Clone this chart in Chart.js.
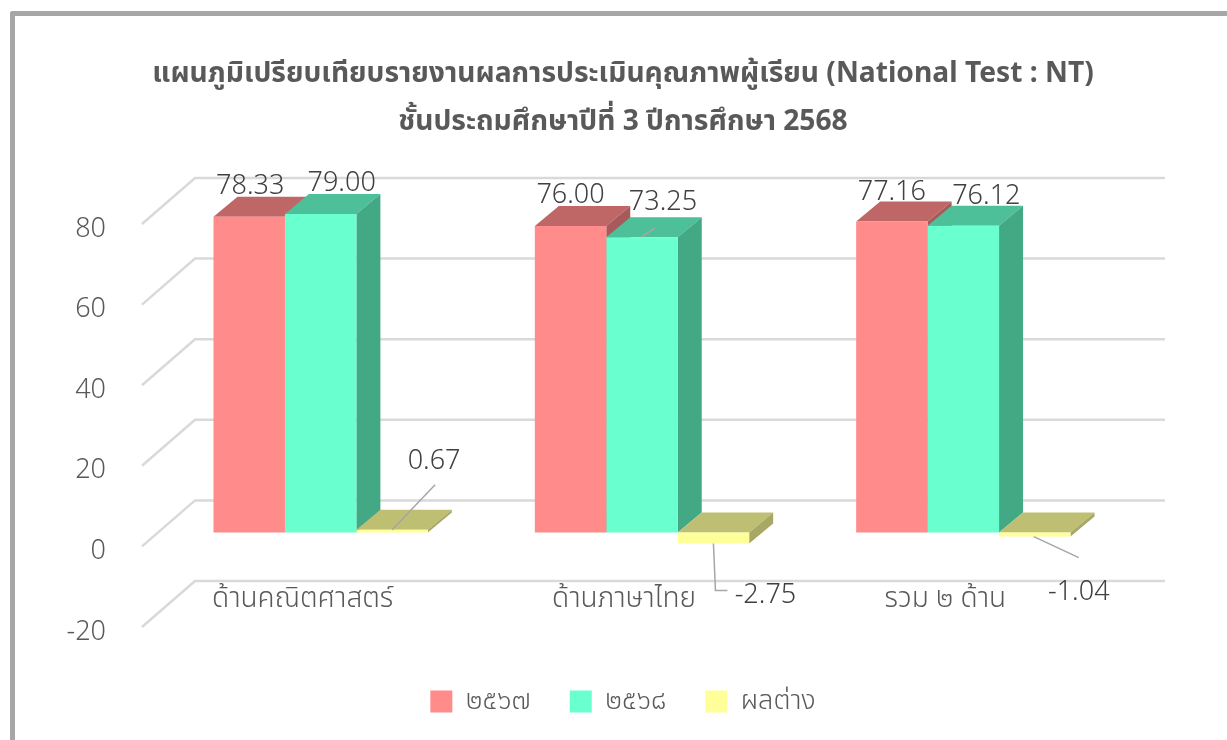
<!DOCTYPE html>
<html><head><meta charset="utf-8">
<style>
html,body{margin:0;padding:0;background:#fff;overflow:hidden}
#frame{position:absolute;left:0;top:0;width:1227px;height:740px;box-sizing:border-box;background:#fff}
#edge{position:absolute;left:10px;top:11px;width:1217px;height:729px;box-sizing:border-box;border-left:5px solid #a6a6a6;border-top:5px solid #a6a6a6;border-top-left-radius:3px}
canvas{position:absolute;left:0;top:0}
</style>
<script src="https://cdn.jsdelivr.net/npm/chart.js@4"></script>
</head><body>
<div id="frame"><div id="edge"></div><canvas id="c" width="1227" height="740"></canvas></div>
<script>
const categories = ['ด้านคณิตศาสตร์','ด้านภาษาไทย','รวม ๒ ด้าน'];
const series2567 = [78.33,76.00,77.16];
const series2568 = [79.00,73.25,76.12];
const seriesDiff = [0.67,-2.75,-1.04];
const seriesNames = ['๒๕๖๗','๒๕๖๘','ผลต่าง'];
const yTicks = [80,60,40,20,0,-20];
const titleLines = ['แผนภูมิเปรียบเทียบรายงานผลการประเมินคุณภาพผู้เรียน (National Test : NT)','ชั้นประถมศึกษาปีที่ 3 ปีการศึกษา 2568'];
const FONT = '"Noto Sans","Noto Sans Thai",sans-serif';
const front = ['#ff8b8b','#69ffce','#ffff99'];
const topC = ['#bf6767','#4dbf99','#bfbf73'];
const side = ['#a85a5a','#43a884','#a8a865'];
const BAR_DX=18,BAR_DY=-19,DEPTH_X=24,DEPTH_Y=-20,WALL_DX=53,WALL_DY=-46,GRID_DY=-5,RIGHT=1165;
const labelSpots = {
 '0,0':[1,-30],'1,0':[21,-31],'2,0':[42,-68],
 '0,1':[0,-31],'1,1':[21,-35],'2,1':[52,52],
 '0,2':[0,-29],'1,2':[23,-29],'2,2':[44,56]
};
const leaders = {
 '1,1':[[-1,0],[13,-9]],
 '2,0':[[0,0],[43,-45]],
 '2,1':[[0,0],[2,47],[14,47]],
 '2,2':[[-1,0],[44,21]]
};
const threeD = {
 id:'threeD',
 beforeDatasetsDraw(chart){
  const {ctx,scales:{y}}=chart;
  const l=chart.chartArea.left;
  ctx.save();ctx.strokeStyle='#d9d9d9';ctx.lineWidth=2.5;
  yTicks.forEach(v=>{
   const p=y.getPixelForValue(v)+GRID_DY;
   ctx.beginPath();ctx.moveTo(l,p);ctx.lineTo(l+WALL_DX,p+WALL_DY);ctx.lineTo(RIGHT,p+WALL_DY);ctx.stroke();
  });
  ctx.restore();
  ctx.save();
  chart.data.datasets.forEach((ds,di)=>{
   chart.getDatasetMeta(di).data.forEach((b,i)=>{
    const x1=b.x-b.width/2+BAR_DX,x2=b.x+b.width/2+BAR_DX;
    const yt=Math.min(b.y,b.base)+BAR_DY,yb=Math.max(b.y,b.base)+BAR_DY;
    ctx.fillStyle=topC[di];
    ctx.beginPath();ctx.moveTo(x1,yt);ctx.lineTo(x1+DEPTH_X,yt+DEPTH_Y);ctx.lineTo(x2+DEPTH_X,yt+DEPTH_Y);ctx.lineTo(x2,yt);ctx.closePath();ctx.fill();
    ctx.fillStyle=side[di];
    ctx.beginPath();ctx.moveTo(x2,yt);ctx.lineTo(x2+DEPTH_X,yt+DEPTH_Y);ctx.lineTo(x2+DEPTH_X,yb+DEPTH_Y);ctx.lineTo(x2,yb);ctx.closePath();ctx.fill();
   });
  });
  ctx.restore();
  ctx.save();ctx.translate(BAR_DX,BAR_DY);
 },
 afterDatasetsDraw(chart){
  const {ctx}=chart;
  ctx.restore();
  ctx.save();
  ctx.font='300 27px '+FONT;ctx.fillStyle='#404040';ctx.textAlign='center';ctx.textBaseline='middle';
  chart.data.datasets.forEach((ds,di)=>{
   chart.getDatasetMeta(di).data.forEach((b,i)=>{
    const key=di+','+i;
    const bx=b.x+BAR_DX,by=b.y+BAR_DY;
    const [ox,oy]=labelSpots[key];
    if(leaders[key]){
     ctx.strokeStyle='#a6a6a6';ctx.lineWidth=1.5;ctx.beginPath();
     leaders[key].forEach((q,n)=>{n?ctx.lineTo(bx+q[0],by+q[1]):ctx.moveTo(bx+q[0],by+q[1]);});
     ctx.stroke();
    }
    ctx.fillText(ds.data[i].toFixed(2),bx+ox,by+oy);
   });
  });
  ctx.restore();
 }
};
new Chart(document.getElementById('c'),{
 type:'bar',
 data:{labels:categories,datasets:[
  {label:seriesNames[0],data:series2567,backgroundColor:front[0]},
  {label:seriesNames[1],data:series2568,backgroundColor:front[1]},
  {label:seriesNames[2],data:seriesDiff,backgroundColor:front[2]}
 ]},
 options:{
  responsive:false,animation:false,
  layout:{padding:{left:19,right:0,top:50,bottom:15}},
  datasets:{bar:{categoryPercentage:0.667,barPercentage:1}},
  scales:{
   y:{min:-20,max:80,ticks:{stepSize:20,font:{family:FONT,size:27,weight:'300'},color:'#595959',padding:28},
      grid:{display:false},border:{display:false},afterFit(s){s.width=123;}},
   yRight:{position:'right',min:-20,max:80,ticks:{display:false},grid:{display:false},border:{display:false},afterFit(s){s.width=121;}},
   x:{position:{y:0},ticks:{font:{family:FONT,size:28,weight:'300'},color:'#595959',padding:23,maxRotation:0},
      grid:{display:false},border:{display:false}},
   xGap:{type:'category',axis:'x',position:'bottom',ticks:{display:false},grid:{display:false},border:{display:false},afterFit(s){s.height=17;}}
  },
  plugins:{
   title:{display:true,text:titleLines,font:{family:FONT,size:28.2,weight:'bold',lineHeight:1.702},color:'#595959',padding:{top:0,bottom:83}},
   legend:{position:'bottom',labels:{font:{family:FONT,size:27,weight:'300'},color:'#595959',boxWidth:22,boxHeight:22,padding:39}},
   tooltip:{enabled:false}
  }
 },
 plugins:[threeD]
});
</script>
</body></html>
